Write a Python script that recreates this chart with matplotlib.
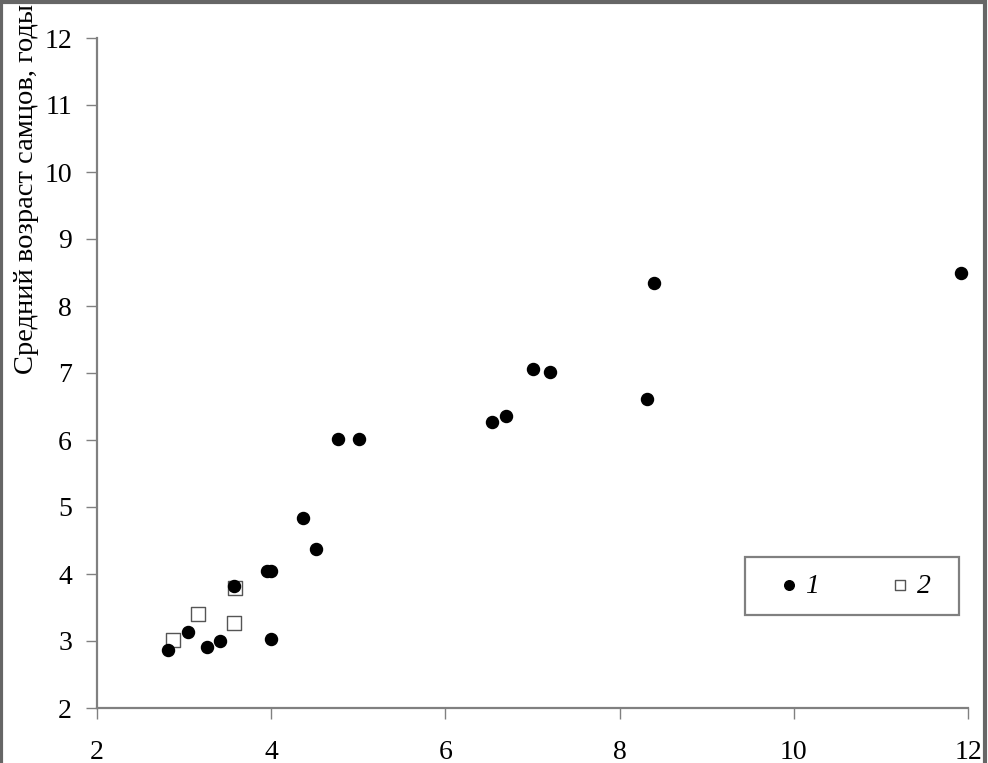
import matplotlib
matplotlib.use("Agg")
import matplotlib.pyplot as plt
from matplotlib.patches import Rectangle

# Series 1 (filled circles)
x1 = [2.82, 3.05, 3.26, 3.41, 3.57, 3.95, 4.00, 4.00, 4.37, 4.52, 4.77, 5.01,
      6.54, 6.70, 7.01, 7.20, 8.32, 8.39, 11.92]
y1 = [2.86, 3.13, 2.91, 3.00, 3.82, 4.04, 4.05, 3.03, 4.83, 4.37, 6.01, 6.01,
      6.27, 6.36, 7.06, 7.01, 6.61, 8.35, 8.50]
# Series 2 (open squares)
x2 = [2.87, 3.16, 3.57, 3.59]
y2 = [3.02, 3.41, 3.27, 3.79]

labels = ["1", "2"]
ylabel = "Средний возраст самцов, годы"
xticks = [2, 4, 6, 8, 10, 12]
yticks = [2, 3, 4, 5, 6, 7, 8, 9, 10, 11, 12]

plt.rcParams["font.family"] = ["Liberation Serif", "DejaVu Serif"]

fig = plt.figure(figsize=(9.88, 7.63), dpi=100)
ax = fig.add_axes([97/988, 1-708/763, (968-97)/988, (708-38)/763])

ax.scatter(x2, y2, s=95, marker="s", facecolor="white", edgecolor="#555555",
           linewidths=1.0, zorder=3, label=labels[1])
ax.scatter(x1, y1, s=75, marker="o", color="black", zorder=4, label=labels[0])

ax.set_xlim(2, 12)
ax.set_ylim(2, 12)
ax.set_xticks(xticks)
ax.set_yticks(yticks)

for s in ["top", "right"]:
    ax.spines[s].set_visible(False)
for s in ["left", "bottom"]:
    ax.spines[s].set_color("#808080")
    ax.spines[s].set_linewidth(1.6)

ax.tick_params(axis="both", direction="out", length=8, width=1.0, colors="#808080",
               labelcolor="black", labelsize=20)
ax.tick_params(axis="y", pad=10)
ax.tick_params(axis="x", pad=15)

ax.set_ylabel(ylabel, fontsize=20.5)
ax.yaxis.set_label_coords(-70/871, (708-4)/670)
ax.yaxis.label.set_verticalalignment("center")
ax.yaxis.label.set_horizontalalignment("right")

# legend frame box
bx0, bx1 = (745-97)/871, (959-97)/871
by0, by1 = (708-615)/670, (708-557)/670
ax.add_patch(Rectangle((bx0, by0), bx1-bx0, by1-by0, transform=ax.transAxes,
                       facecolor="white", edgecolor="#808080", linewidth=1.6, zorder=5))

h, l = ax.get_legend_handles_labels()
order = [1, 0]
leg = ax.legend([h[i] for i in order], [l[i] for i in order], ncol=2,
                loc="center", bbox_to_anchor=((854-97)/871, (by0+by1)/2),
                frameon=False, borderpad=0, borderaxespad=0,
                handlelength=0.8, handletextpad=0.2, columnspacing=2.5,
                markerscale=0.8, prop={"style": "italic", "size": 20})
leg.set_zorder(6)

# image frame
fig.patches.append(Rectangle((0.0015, -0.01), 0.9955, 1.008, transform=fig.transFigure,
                             fill=False, edgecolor="#666666", linewidth=3))

fig.savefig("out.png", dpi=100)
